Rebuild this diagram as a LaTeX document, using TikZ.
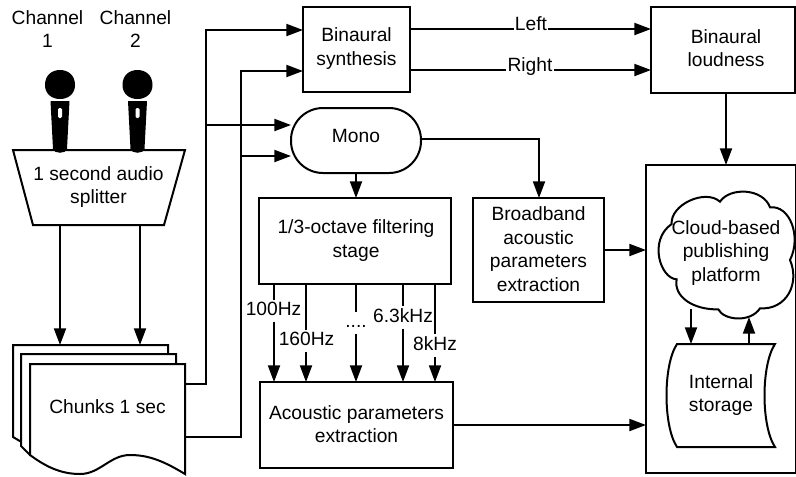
\documentclass[tikz,border=0pt]{standalone}
\usepackage{fontspec}
\setmainfont{Liberation Sans}
\usetikzlibrary{arrows.meta,calc}
\tikzset{
  ln/.style={line width=1.5pt,line join=miter},
  arr/.style={ln,-{Triangle[length=12.5pt,width=9pt]}},
  box/.style={draw,line width=1.5pt,inner sep=0pt,outer sep=0pt,align=center,font=\fontsize{14.4}{17.6}\selectfont},
  txt/.style={inner sep=0pt,outer sep=0pt,align=center,font=\fontsize{14.4}{17.6}\selectfont},
  lab/.style={txt,fill=white,inner xsep=1pt,inner ysep=2pt,text height=10pt,text depth=3pt},
}
\newcommand{\mic}[1]{%
  \begin{scope}[shift={(#1,0)}]
    \fill (-15,85) .. controls (-15,75) and (-8,70) .. (0,70) .. controls (8,70) and (15,75) .. (15,85)
      .. controls (15,94) and (8,99) .. (0,99) .. controls (-8,99) and (-15,94) .. (-15,85) -- cycle;
    \fill (-9.5,101) -- (9.5,101) -- (7,149) .. controls (6,154) and (-6,154) .. (-7,149) -- cycle;
    \fill[white,rounded corners=1pt] (-2,108) rectangle (2,118);
  \end{scope}}
\begin{document}
\begin{tikzpicture}[x=0.75pt,y=-0.75pt]
\useasboundingbox (0,0) rectangle (796,476);
\node[txt] (ch1) at (47.5,29) {Channel\\1};
\node[txt] (ch2) at (135.5,29) {Channel\\2};
% splitter
\draw[ln,fill=white] (13,150) -- (185,150) -- (164,225) -- (33,225) -- cycle;
\node[txt] (split) at (98.5,187) {1 second audio\\splitter};
\coordinate (splitA) at (60,225);
\coordinate (splitB) at (140,225);
% microphones
\mic{60}
\mic{137.5}
% chunks
\draw[ln,fill=white] (13,345) -- (168,345) -- (168,420) -- (30,447) -- (13,437) -- cycle;
\draw[ln,fill=white] (21,354) -- (176,354) -- (176,430) -- (30,455) -- (21,446) -- cycle;
\draw[ln,fill=white] (30,364) -- (185,364) -- (185,474)
  .. controls (165,462) and (150,455) .. (130,455)
  .. controls (110,455) and (100,474) .. (80,474)
  .. controls (60,474) and (45,466) .. (30,455) -- cycle;
\node[txt] (chunks) at (107.5,407) {Chunks 1 sec};
\coordinate (sheetA) at (60,345);
\coordinate (sheetB) at (140,345);
\coordinate (chunkA) at (185,384);
\coordinate (chunkB) at (185,437);
% boxes
\node[box,minimum width=80.25pt,minimum height=63.75pt] (synth) at (356.5,49.5) {};
\node[txt] (synthT) at (356.5,48.5) {Binaural\\synthesis};
\node[box,minimum width=108pt,minimum height=64.5pt] (loud) at (723,50) {};
\node[txt] (loudT) at (726,48) {Binaural\\loudness};
\node[box,minimum width=97.5pt,minimum height=48.75pt,rounded corners=24pt] (mono) at (356,140.5) {};
\node[txt] (monoT) at (356,136) {Mono};
\node[box,minimum width=144pt,minimum height=64.5pt] (filt) at (355,241) {};
\node[txt] (filtT) at (356,240.5) {1/3-octave filtering\\stage};
\node[box,minimum width=98.25pt,minimum height=78pt] (broad) at (538.5,250) {};
\node[txt] (broadT) at (538.5,249) {Broadband\\acoustic\\parameters\\extraction};
\node[box,minimum width=144.75pt,minimum height=64.5pt] (acou) at (356.5,425) {};
\node[txt] (acouT) at (356.5,424) {Acoustic parameters\\extraction};
\node[box,minimum width=112.5pt,minimum height=231pt] (store) at (721,319) {};
% cloud
\begin{scope}[shift={(630,150)},x=0.25pt,y=-0.25pt]
\draw[ln,fill=white] (125,222)
  .. controls (120,165) and (225,115) .. (270,155)
  .. controls (300,110) and (400,115) .. (420,172)
  .. controls (480,165) and (515,260) .. (480,330)
  .. controls (510,400) and (470,480) .. (390,475)
  .. controls (360,520) and (280,510) .. (265,478)
  .. controls (190,480) and (130,440) .. (140,388)
  .. controls (90,385) and (55,270) .. (125,222) -- cycle;
\end{scope}
\node[txt] (cloud) at (726,253) {Cloud-based\\publishing\\platform};
\coordinate (cloudA) at (691,309);
\coordinate (cloudB) at (749,317);
% storage
\draw[ln,fill=white] (677,344) -- (775,344)
  .. controls (761,365) and (761,426) .. (775,447)
  -- (677,447)
  .. controls (663,426) and (663,365) .. (677,344) -- cycle;
\node[txt] (disk) at (721,395) {Internal\\storage};
\coordinate (diskA) at (691,344);
\coordinate (diskB) at (749,344);
% connectors
\draw[arr] (splitA) -- (sheetA);
\draw[arr] (splitB) -- (sheetB);
\coordinate (synthA) at (303,30);
\coordinate (synthB) at (303,71);
\coordinate (monoA) at (291,125);
\coordinate (monoB) at (291,156);
\draw[arr] (chunkA) -- (206,384) -- (206,30) -- (synthA);
\draw[arr] (chunkB) -- (241,437) -- (241,71) -- (synthB);
\draw[arr] (206,125) -- (monoA);
\draw[arr] (241,156) -- (monoB);
\draw[arr] (mono.south) -- (filt.north -| mono.south);
\coordinate (monoR) at (421,139);
\draw[arr] (monoR) -- (539,139) -- (539,198);
\coordinate (synthL) at (410,29);
\coordinate (synthR) at (410,70);
\coordinate (loudL) at (651,29);
\coordinate (loudR) at (651,70);
\draw[arr] (synthL) -- (loudL);
\draw[arr] (synthR) -- (loudR);
\node[lab] (left) at (531,26) {Left};
\node[lab] (right) at (530,67) {Right};
\draw[arr] (loud.south -| 726,0) -- (store.north -| 726,0);
\draw[arr] (broad.east) -- (broad.east -| store.west);
\draw[arr] (acou.east) -- (acou.east -| store.west);
\draw[arr] (cloudA) -- (diskA);
\draw[arr] (diskB) -- (cloudB);
% filter arrows
\foreach \x in {274,306,356,403,435}{
  \draw[arr] (filt.south -| \x,0) -- (acou.north -| \x,0);
}
\node[lab] (f1) at (273.5,311) {100Hz};
\node[lab] (f2) at (306.5,341) {160Hz};
\node[lab] (f3) at (356,323) {....};
\node[lab] (f4) at (403,317.5) {6.3kHz};
\node[lab] (f5) at (435,345.5) {8kHz};
\end{tikzpicture}
\end{document}
